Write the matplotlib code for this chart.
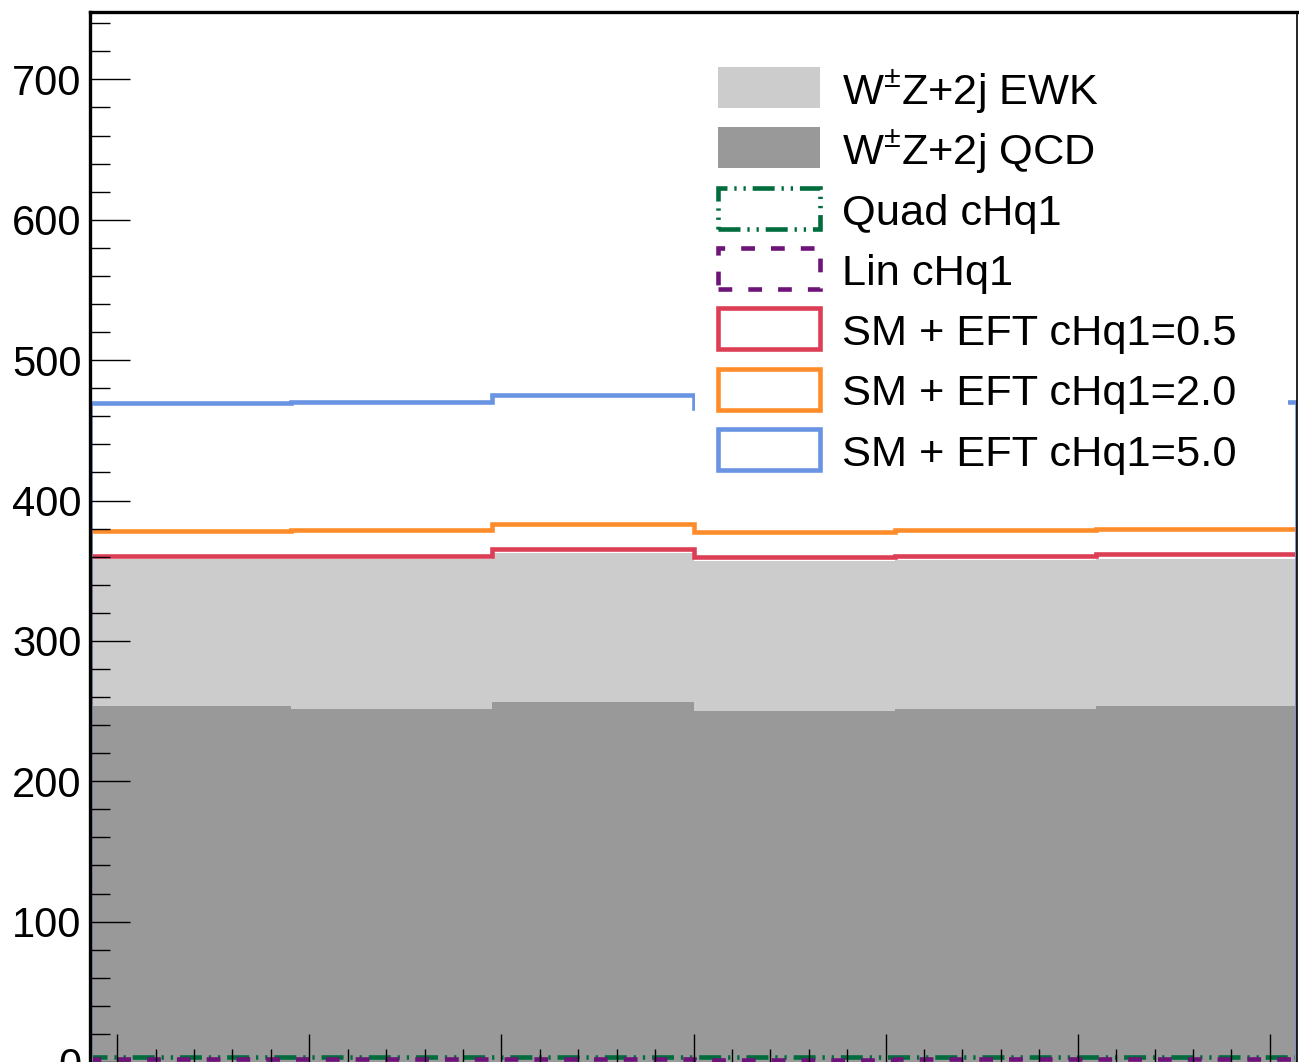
import numpy as np
import matplotlib
matplotlib.use("Agg")
import matplotlib.pyplot as plt
import matplotlib.patches as mpatches

plt.rcParams['font.family'] = ['Liberation Sans', 'DejaVu Sans']
plt.rcParams['mathtext.fontset'] = 'custom'
plt.rcParams['mathtext.rm'] = 'Liberation Sans'
plt.rcParams['mathtext.it'] = 'Liberation Sans:italic'

# 6 bins in phi, -pi .. pi
edges = np.linspace(-np.pi, np.pi, 7)

qcd = np.array([253.4, 251.8, 256.3, 249.9, 251.8, 253.9])
ewk = np.array([104.6, 106.2, 106.3, 107.3, 106.1, 104.7])
quad = np.array([3.8, 3.7, 3.9, 3.6, 3.8, 3.7])
lin = np.array([1.8, 1.8, 1.9, 1.7, 1.8, 1.8])
eft_05 = np.array([360.3, 360.2, 365.2, 359.5, 360.8, 362.0])
eft_20 = np.array([378.6, 378.7, 383.6, 377.6, 378.8, 379.5])
eft_50 = np.array([469.5, 470.3, 475.4, 466.0, 468.0, 470.5])

labels = [r'W$^{\pm}$Z+2j EWK', r'W$^{\pm}$Z+2j QCD', 'Quad cHq1', 'Lin cHq1',
          'SM + EFT cHq1=0.5', 'SM + EFT cHq1=2.0', 'SM + EFT cHq1=5.0']

c_ewk = '#cccccc'
c_qcd = '#999999'
c_quad = '#006c3c'
c_lin = '#6e1478'
c_05 = '#dc3f55'
c_20 = '#ff8c2a'
c_50 = '#6a93e3'

ls_quad = (0, (4.8, 1.5, 0.5, 1.5, 0.5, 1.5))
ls_lin = (0, (3, 3.5))
lw = 3.3

W, H = 1299, 1062
fig = plt.figure(figsize=(W / 100, H / 100), dpi=100)
ax = fig.add_axes([90 / W, 0.0, (1297 - 90) / W, 1 - 12 / H])

ax.stairs(qcd, edges, baseline=0, fill=True, color=c_qcd, lw=0)
ax.stairs(qcd + ewk, edges, baseline=qcd, fill=True, color=c_ewk, lw=0)
ax.stairs(quad, edges, baseline=0, color=c_quad, lw=lw, ls=ls_quad)
ax.stairs(lin, edges, baseline=0, color=c_lin, lw=lw, ls=ls_lin)
ax.stairs(eft_05, edges, baseline=0, color=c_05, lw=lw)
ax.stairs(eft_20, edges, baseline=0, color=c_20, lw=lw)
ax.stairs(eft_50, edges, baseline=0, color=c_50, lw=lw)

ax.set_xticks(np.arange(-3, 4, 1))
ax.set_xticks(np.arange(-3.0, 3.01, 0.2), minor=True)
ax.set_yticks(np.arange(0, 701, 100))
ax.set_yticks(np.arange(0, 748, 20), minor=True)
ax.set_xlim(-np.pi, np.pi)
ax.set_ylim(0, 748)
ax.tick_params(axis='both', which='both', direction='in', color='black', width=1.0)
ax.tick_params(axis='y', which='major', length=29, labelsize=30, pad=6)
ax.tick_params(axis='y', which='minor', length=14.5)
ax.tick_params(axis='x', which='major', length=20, labelbottom=False)
ax.tick_params(axis='x', which='minor', length=9.5)
ax.tick_params(top=False, right=False)

ax.spines['left'].set_linewidth(2.4)
ax.spines['top'].set_linewidth(2.4)
ax.spines['right'].set_linewidth(1.2)
ax.spines['bottom'].set_visible(False)


def px(x, y):
    # figure pixel -> axes fraction
    return (x - 90) / 1207, (1062.5 - y) / 1050


# legend, drawn by hand on a white pad that hides what lies behind it
x0, y0 = px(695, 490)
x1, y1 = px(1288, 30)
ax.add_patch(mpatches.Rectangle((x0, y0), x1 - x0, y1 - y0, transform=ax.transAxes,
                                facecolor='white', edgecolor='none', zorder=4))

entries = [
    dict(facecolor=c_ewk, edgecolor='none', lw=0),
    dict(facecolor=c_qcd, edgecolor='none', lw=0),
    dict(facecolor='none', edgecolor=c_quad, lw=lw, ls=ls_quad),
    dict(facecolor='none', edgecolor=c_lin, lw=lw, ls=ls_lin),
    dict(facecolor='none', edgecolor=c_05, lw=lw),
    dict(facecolor='none', edgecolor=c_20, lw=lw),
    dict(facecolor='none', edgecolor=c_50, lw=lw),
]
bw, bh = 102 / 1207, 41 / 1050
for i, (style, lab) in enumerate(zip(entries, labels)):
    yc = 88 + 60.3 * i
    bx, by = px(718, yc + 20.5)
    ax.add_patch(mpatches.Rectangle((bx, by), bw, bh, transform=ax.transAxes,
                                    zorder=5, **style))
    tx, ty = px(842, yc + 16.5)
    ax.text(tx, ty, lab, transform=ax.transAxes, fontsize=31.2,
            ha='left', va='baseline', zorder=6)

fig.savefig('out.png', dpi=100)
